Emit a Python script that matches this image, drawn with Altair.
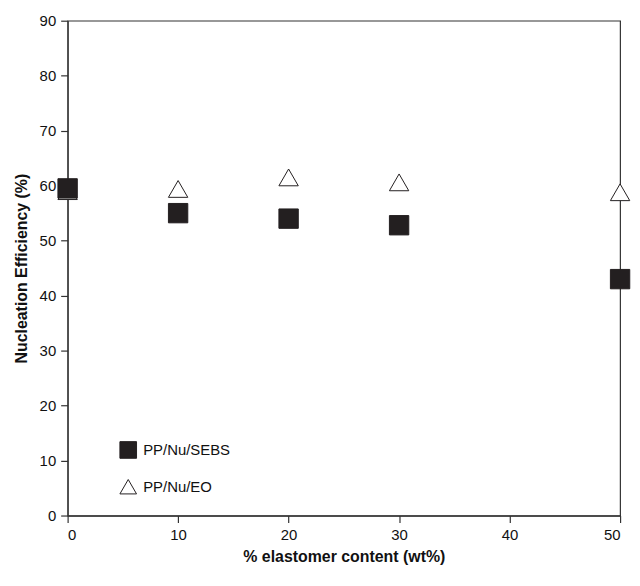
import altair as alt
import pandas as pd

x_vals = [0, 10, 20, 30, 50]
sebs = [59.5, 55.0, 54.0, 52.8, 43.0]
eo = [59.0, 59.4, 61.5, 60.6, 58.8]
series_names = ["PP/Nu/SEBS", "PP/Nu/EO"]

rows = []
for x, v in zip(x_vals, eo):
    rows.append({"x": x, "y": v, "series": "PP/Nu/EO"})
for x, v in zip(x_vals, sebs):
    rows.append({"x": x, "y": v, "series": "PP/Nu/SEBS"})
df = pd.DataFrame(rows)
df["order"] = range(len(df))

font = "Liberation Sans"
leg = dict(title=None, orient="none", legendX=52, legendY=423)

chart = alt.Chart(df).mark_point(filled=False, strokeWidth=1, opacity=1).encode(
    x=alt.X("x:Q", scale=alt.Scale(domain=[0, 50], nice=False, zero=False),
            axis=alt.Axis(title="% elastomer content (wt%)", values=[0, 10, 20, 30, 40, 50],
                          grid=False, tickSize=7, labelPadding=5, titlePadding=6)),
    y=alt.Y("y:Q", scale=alt.Scale(domain=[0, 90], nice=False),
            axis=alt.Axis(title="Nucleation Efficiency (%)", values=list(range(0, 91, 10)),
                          grid=False, tickSize=7, labelPadding=5, titlePadding=10)),
    shape=alt.Shape("series:N", scale=alt.Scale(domain=series_names, range=["square", "triangle-up"]),
                    legend=alt.Legend(labelFont=font, labelFontSize=15, labelColor="#111",
                                      symbolSize=280, rowPadding=16, symbolStrokeWidth=1,
                                      labelOffset=6, **leg)),
    fill=alt.Fill("series:N", scale=alt.Scale(domain=series_names, range=["#231f20", "white"]),
                  legend=alt.Legend(**leg)),
    stroke=alt.Stroke("series:N", scale=alt.Scale(domain=series_names, range=["#231f20", "#231f20"]),
                      legend=alt.Legend(**leg)),
    size=alt.value(380),
    order=alt.Order("order:Q"),
).properties(
    width=556, height=498, background="white",
    padding={"left": 5, "top": 4, "right": 0, "bottom": 0},
).configure_view(
    stroke="#333", strokeWidth=1.2
).configure_axis(
    domainColor="#333", tickColor="#333", labelColor="#111", titleColor="#111",
    labelFont=font, titleFont=font, labelFontSize=15, titleFontSize=16, titleFontWeight="bold",
    domainWidth=1.2, tickWidth=1.2
)

chart.save("out.html", embed_options={"renderer": "svg", "actions": False})
